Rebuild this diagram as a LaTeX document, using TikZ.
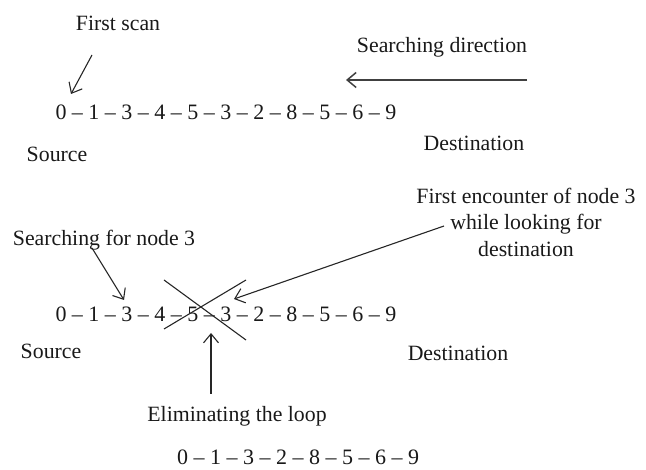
\documentclass[tikz,border=0pt]{standalone}
\usepackage{fontspec}
\setmainfont{Liberation Serif}
\usetikzlibrary{arrows.meta}
\begin{document}
\begin{tikzpicture}[x=1pt,y=-1pt,
  lbl/.style={inner sep=0pt,font=\fontsize{21.8}{26.5}\selectfont,text=black!90},
  seq/.style={inner sep=0pt,font=\fontsize{22}{26}\selectfont,text=black!90},
  arr/.style={draw=black!85,line width=1.1pt,-{Straight Barb[length=9pt,width=15pt]}},
  strike/.style={draw=black!85,line width=1.1pt}]
\useasboundingbox (0,0) rectangle (646,470);
% top part
\node[lbl] (firstscan) at (118,23) {First scan};
\node[lbl] (searchdir) at (442,47) {Searching direction};
\node[seq] (seq1) at (226,112) {0 -- 1 -- 3 -- 4 -- 5 -- 3 -- 2 -- 8 -- 5 -- 6 -- 9};
\node[lbl] (src1) at (57,154) {Source};
\node[lbl] (dst1) at (474,143) {Destination};
\coordinate (a1s) at (92,55);
\coordinate (a1e) at (71,94);
\draw[arr] (a1s) -- (a1e);
\coordinate (a2s) at (527,80);
\coordinate (a2e) at (346,80);
\draw[arr,line width=1.5pt,draw=black!75] (a2s) -- (a2e);
% middle part
\node[lbl,align=center] (enc) at (526,222) {First encounter of node 3\\while looking for\\destination};
\node[lbl] (search3) at (104,240) {Searching for node 3};
\node[seq] (seq2) at (226,314) {0 -- 1 -- 3 -- 4 -- 5 -- 3 -- 2 -- 8 -- 5 -- 6 -- 9};
\node[lbl] (src2) at (51,351) {Source};
\node[lbl] (dst2) at (458,353) {Destination};
\coordinate (a3s) at (92,248);
\coordinate (a3e) at (124,300);
\draw[arr] (a3s) -- (a3e);
\coordinate (a4s) at (444,226);
\coordinate (a4e) at (234,299);
\draw[arr] (a4s) -- (a4e);
\coordinate (xa) at (164,280);
\coordinate (xb) at (246,340);
\coordinate (xc) at (246,280);
\coordinate (xd) at (164,329);
\draw[strike] (xa) -- (xb);
\draw[strike] (xc) -- (xd);
% bottom part
\node[lbl] (elim) at (237,416) {Eliminating the loop};
\coordinate (a5s) at (211,394);
\coordinate (a5e) at (211,333);
\draw[arr] (a5s) -- (a5e);
\node[seq] (seq3) at (298,457) {0 -- 1 -- 3 -- 2 -- 8 -- 5 -- 6 -- 9};
\end{tikzpicture}
\end{document}
